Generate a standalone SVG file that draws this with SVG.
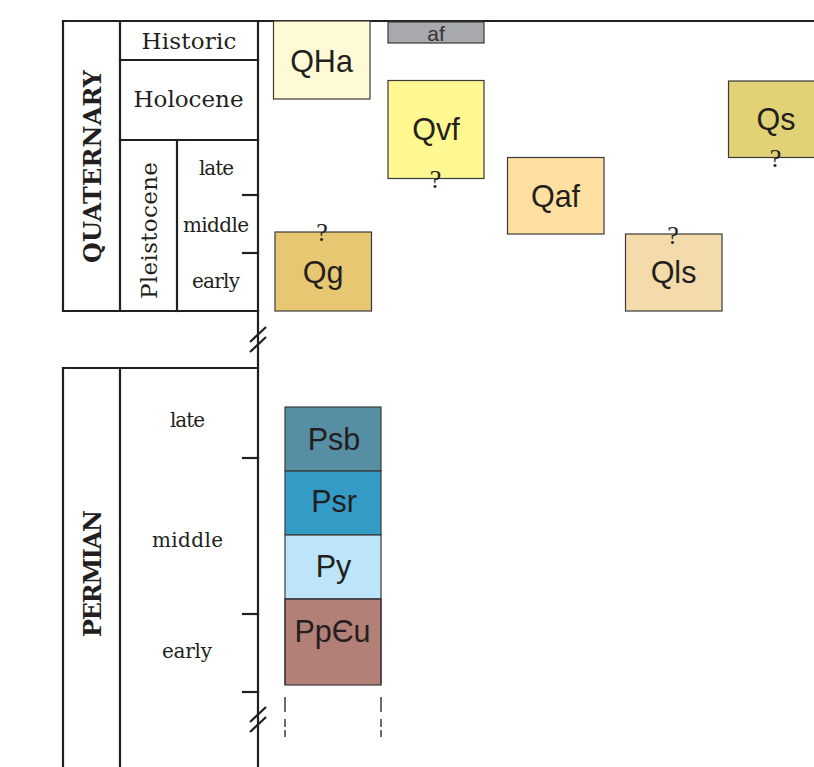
<svg xmlns="http://www.w3.org/2000/svg" width="814" height="767" viewBox="0 0 814 767">
  <style>
    .frame { stroke: #231f20; stroke-width: 2.2; fill: none; stroke-linecap: square; }
    .brk { stroke: #231f20; stroke-width: 2.2; fill: none; }
    .unit rect { stroke: #3a3a3a; stroke-width: 1.2; }
    .lbl { font-family: "Liberation Sans", Arial, sans-serif; font-size: 30.5px; fill: #231f20; text-anchor: middle; }
    .small { font-size: 21px; fill: #333333; }
    .q { font-family: "Liberation Serif", "Times New Roman", serif; font-size: 26px; fill: #231f20; text-anchor: middle; }
    .era { font-family: "DejaVu Serif", serif; font-size: 23px; fill: #231f20; text-anchor: middle; }
    .sys { font-family: "DejaVu Serif", serif; font-weight: bold; font-size: 24px; fill: #231f20; text-anchor: middle; }
    .sub { font-family: "DejaVu Serif", serif; font-size: 20px; fill: #231f20; text-anchor: middle; }
    .dash { stroke: #231f20; stroke-width: 1.3; fill: none; }
  </style>

  <rect width="814" height="767" fill="#ffffff"/>

  <!-- Time scale column -->
  <g id="timescale">
    <line class="frame" x1="63" y1="21" x2="814" y2="21"/>
    <line class="frame" x1="258" y1="21" x2="258" y2="767"/>
    <!-- Quaternary block -->
    <line class="frame" x1="63" y1="21" x2="63" y2="311"/>
    <line class="frame" x1="120" y1="21" x2="120" y2="311"/>
    <line class="frame" x1="63" y1="311" x2="258" y2="311"/>
    <line class="frame" x1="120" y1="60" x2="258" y2="60"/>
    <line class="frame" x1="120" y1="140" x2="258" y2="140"/>
    <line class="frame" x1="177" y1="140" x2="177" y2="311"/>
    <line class="frame" x1="243" y1="195" x2="258" y2="195"/>
    <line class="frame" x1="243" y1="253" x2="258" y2="253"/>
    <!-- Permian block -->
    <line class="frame" x1="63" y1="368" x2="258" y2="368"/>
    <line class="frame" x1="63" y1="368" x2="63" y2="767"/>
    <line class="frame" x1="120" y1="368" x2="120" y2="767"/>
    <line class="frame" x1="243" y1="458" x2="258" y2="458"/>
    <line class="frame" x1="243" y1="614" x2="258" y2="614"/>
    <line class="frame" x1="243" y1="692" x2="258" y2="692"/>
    <!-- time breaks -->
    <line class="brk" x1="250" y1="342" x2="266" y2="327"/>
    <line class="brk" x1="250" y1="352" x2="266" y2="337"/>
    <line class="brk" x1="250" y1="722" x2="266" y2="707"/>
    <line class="brk" x1="250" y1="732" x2="266" y2="717"/>

    <!-- labels -->
    <text class="sys" transform="translate(101,166.5) rotate(-90)" textLength="193">QUATERNARY</text>
    <text class="sys" transform="translate(100.5,573.5) rotate(-90)" textLength="127">PERMIAN</text>
    <text class="era" x="189" y="49" textLength="95">Historic</text>
    <text class="era" x="188.5" y="106.5" textLength="110">Holocene</text>
    <text class="era" transform="translate(157,230.5) rotate(-90)" textLength="137">Pleistocene</text>
    <text class="sub" x="216.5" y="175" textLength="35">late</text>
    <text class="sub" x="216" y="231.5" textLength="66">middle</text>
    <text class="sub" x="216" y="288" textLength="48">early</text>
    <text class="sub" x="187.5" y="426.5" textLength="35">late</text>
    <text class="sub" x="187.5" y="546.5" textLength="71">middle</text>
    <text class="sub" x="187" y="658" textLength="50">early</text>
  </g>

  <!-- Map units -->
  <g id="QHa" class="unit">
    <rect x="273.5" y="21" width="96.5" height="78" fill="#fffad6"/>
    <text class="lbl" x="321.5" y="71.5">QHa</text>
  </g>
  <g id="af" class="unit">
    <rect x="388" y="22" width="96" height="21" fill="#a7a9ac"/>
    <text class="lbl small" x="436" y="41">af</text>
  </g>
  <g id="Qvf" class="unit">
    <rect x="388" y="80.5" width="96" height="98" fill="#fff78f"/>
    <text class="lbl" x="436" y="139.5">Qvf</text>
    <text class="q" x="435.5" y="188">?</text>
  </g>
  <g id="Qaf" class="unit">
    <rect x="507.5" y="157.5" width="96.5" height="76.5" fill="#ffe0a0"/>
    <text class="lbl" x="555.5" y="207">Qaf</text>
  </g>
  <g id="Qs" class="unit">
    <rect x="728.5" y="81" width="100" height="76.5" fill="#e0d275"/>
    <text class="lbl" x="776" y="130">Qs</text>
    <text class="q" x="775.5" y="167">?</text>
  </g>
  <g id="Qls" class="unit">
    <rect x="625.5" y="234" width="96.5" height="77" fill="#f3dbab"/>
    <text class="lbl" x="673.5" y="283">Qls</text>
    <text class="q" x="673" y="244">?</text>
  </g>
  <g id="Qg" class="unit">
    <rect x="275" y="232" width="96.5" height="79" fill="#e8c773"/>
    <text class="lbl" x="323" y="283">Qg</text>
    <text class="q" x="322" y="241">?</text>
  </g>
  <g id="Psb" class="unit">
    <rect x="285" y="407" width="96" height="64" fill="#568ea4"/>
    <text class="lbl" x="334" y="449.5">Psb</text>
  </g>
  <g id="Psr" class="unit">
    <rect x="285" y="471" width="96" height="64" fill="#339bc6"/>
    <text class="lbl" x="334" y="512">Psr</text>
  </g>
  <g id="Py" class="unit">
    <rect x="285" y="535" width="96" height="64" fill="#bde5f9"/>
    <text class="lbl" x="333.5" y="577">Py</text>
  </g>
  <g id="PpCu" class="unit">
    <rect x="285" y="599" width="96" height="86" fill="#b38077" stroke="none"/>
    <path d="M285 599 V685 M381 599 V685 M285 599 H381" stroke="#3a3a3a" stroke-width="1.2" fill="none"/>
    <text class="lbl" x="332.5" y="642">PpЄu</text>
  </g>

  <!-- Continuation below the lowest unit -->
  <g id="connectors">
    <path class="dash" d="M285 697 V712 M285 719 V727 M285 730 V737 M381 697 V712 M381 719 V727 M381 730 V737"/>
  </g>
</svg>
